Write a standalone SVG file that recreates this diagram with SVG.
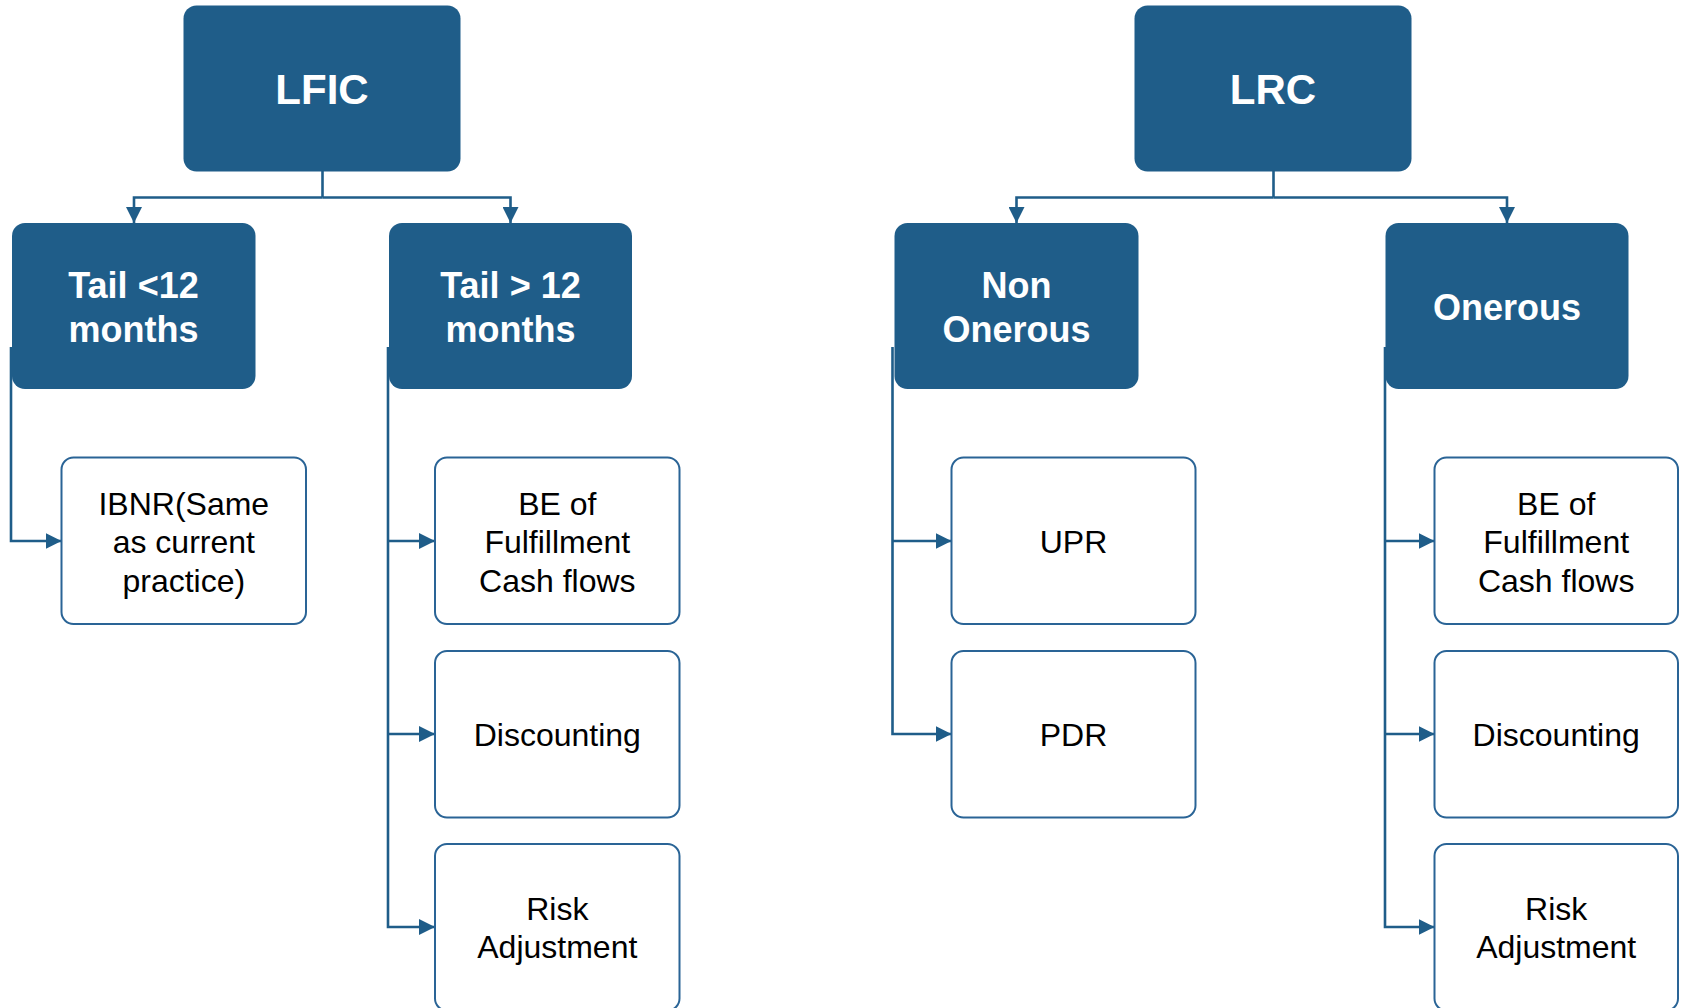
<svg xmlns="http://www.w3.org/2000/svg" width="1683" height="1008" viewBox="0 0 1683 1008">
<style>
.hdr{fill:#1F5D89;}
.leaf{fill:#FFFFFF;stroke:#2A6496;stroke-width:2;}
.ht{font-family:"Liberation Sans",Arial,sans-serif;font-weight:bold;fill:#FFFFFF;text-anchor:middle;font-size:36px;}
.top{font-size:42px;}
.lt{font-family:"Liberation Sans",Arial,sans-serif;fill:#000000;text-anchor:middle;font-size:32px;}
.con{fill:none;stroke:#1F5D89;stroke-width:2.6;marker-end:url(#arr);}
.br{fill:none;stroke:#1F5D89;stroke-width:2.6;}
</style>
<defs>
<marker id="arr" markerUnits="userSpaceOnUse" markerWidth="16" markerHeight="16" viewBox="0 0 16 16" refX="16" refY="8" orient="auto">
<path d="M0,0 L16,8 L0,16 z" fill="#1F5D89"/>
</marker>
</defs>
<rect width="1683" height="1008" fill="#FFFFFF"/>
<g id="connectors">
<path class="br" d="M322.5,171 V197.5"/>
<path class="con" d="M322.5,197.5 H134 V223"/>
<path class="con" d="M322.5,197.5 H510.5 V223"/>
<path class="br" d="M1273.5,171 V197.5"/>
<path class="con" d="M1273.5,197.5 H1016.5 V223"/>
<path class="con" d="M1273.5,197.5 H1507 V223"/>
<path class="con" d="M11,347 V541 H61.5"/>
<path class="con" d="M388,347 V927 H435"/>
<path class="con" d="M388,541 H435"/>
<path class="con" d="M388,734 H435"/>
<path class="con" d="M892.5,347 V734 H951.5"/>
<path class="con" d="M892.5,541 H951.5"/>
<path class="con" d="M1385,347 V927 H1434.5"/>
<path class="con" d="M1385,541 H1434.5"/>
<path class="con" d="M1385,734 H1434.5"/>
</g>
<g id="lfic"><rect class="hdr" x="183.5" y="5.5" width="277" height="166" rx="13"/><text class="ht top" x="322" y="104">LFIC</text></g>
<g id="lrc"><rect class="hdr" x="1134.5" y="5.5" width="277" height="166" rx="13"/><text class="ht top" x="1273" y="104">LRC</text></g>
<g id="tail-lt"><rect class="hdr" x="12" y="223" width="243.5" height="166" rx="13"/><text class="ht" x="133.5" y="297.5">Tail &lt;12</text><text class="ht" x="133.5" y="342.3">months</text></g>
<g id="tail-gt"><rect class="hdr" x="389" y="223" width="243" height="166" rx="13"/><text class="ht" x="510.5" y="297.5">Tail &gt; 12</text><text class="ht" x="510.5" y="342.3">months</text></g>
<g id="non-onerous"><rect class="hdr" x="894.5" y="223" width="244" height="166" rx="13"/><text class="ht" x="1016.5" y="297.5">Non</text><text class="ht" x="1016.5" y="342.3">Onerous</text></g>
<g id="onerous"><rect class="hdr" x="1385.5" y="223" width="243" height="166" rx="13"/><text class="ht" x="1507" y="319.5">Onerous</text></g>
<g id="ibnr"><rect class="leaf" x="61.5" y="457.5" width="244.5" height="166.5" rx="12"/><text class="lt" x="183.8" y="514.5">IBNR(Same</text><text class="lt" x="183.8" y="553">as current</text><text class="lt" x="183.8" y="591.5">practice)</text></g>
<g id="be-left"><rect class="leaf" x="435" y="457.5" width="244.5" height="166.5" rx="12"/><text class="lt" x="557.3" y="514.5">BE of</text><text class="lt" x="557.3" y="553">Fulfillment</text><text class="lt" x="557.3" y="591.5">Cash flows</text></g>
<g id="disc-left"><rect class="leaf" x="435" y="651" width="244.5" height="166.5" rx="12"/><text class="lt" x="557.3" y="745.5">Discounting</text></g>
<g id="risk-left"><rect class="leaf" x="435" y="844" width="244.5" height="166.5" rx="12"/><text class="lt" x="557.3" y="919.5">Risk</text><text class="lt" x="557.3" y="958">Adjustment</text></g>
<g id="upr"><rect class="leaf" x="951.5" y="457.5" width="244" height="166.5" rx="12"/><text class="lt" x="1073.5" y="553">UPR</text></g>
<g id="pdr"><rect class="leaf" x="951.5" y="651" width="244" height="166.5" rx="12"/><text class="lt" x="1073.5" y="745.5">PDR</text></g>
<g id="be-right"><rect class="leaf" x="1434.5" y="457.5" width="243.5" height="166.5" rx="12"/><text class="lt" x="1556.2" y="514.5">BE of</text><text class="lt" x="1556.2" y="553">Fulfillment</text><text class="lt" x="1556.2" y="591.5">Cash flows</text></g>
<g id="disc-right"><rect class="leaf" x="1434.5" y="651" width="243.5" height="166.5" rx="12"/><text class="lt" x="1556.2" y="745.5">Discounting</text></g>
<g id="risk-right"><rect class="leaf" x="1434.5" y="844" width="243.5" height="166.5" rx="12"/><text class="lt" x="1556.2" y="919.5">Risk</text><text class="lt" x="1556.2" y="958">Adjustment</text></g>
</svg>
